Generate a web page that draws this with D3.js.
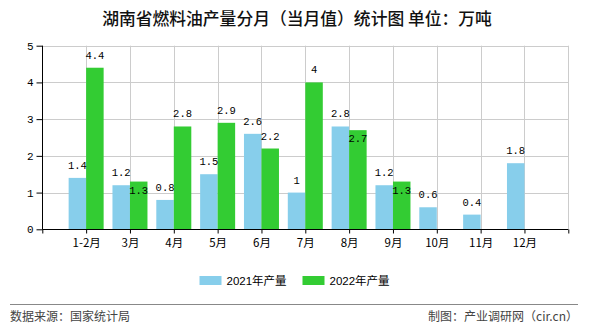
<!DOCTYPE html>
<html>
<head>
<meta charset="utf-8">
<script src="https://cdn.jsdelivr.net/npm/d3@7/dist/d3.min.js"></script>
<style>
  html, body { margin: 0; padding: 0; background: #fff; }
  svg { display: block; }
</style>
</head>
<body>
<svg id="chart" width="590" height="330"></svg>
<script>
// Monthly fuel-oil output for Hunan, 10k tonnes
const months = ["1-2月", "3月", "4月", "5月", "6月", "7月", "8月", "9月", "10月", "11月", "12月"];
const output2021 = [1.4, 1.2, 0.8, 1.5, 2.6, 1, 2.8, 1.2, 0.6, 0.4, 1.8];
const output2022 = [4.4, 1.3, 2.8, 2.9, 2.2, 4, 2.7, 1.3, null, null, null];
const seriesNames = ["2021年产量", "2022年产量"];
const seriesColors = ["#87CEEB", "#33CC33"];
const yTicks = [0, 1, 2, 3, 4, 5];

const svg = d3.select("#chart");
const plot = { left: 42.3, right: 568.3, top: 45.7, bottom: 229.3 };

const cjk = "'Noto Sans CJK SC', 'Noto Sans', sans-serif";
const mono = "'Liberation Mono', 'DejaVu Sans Mono', monospace";

// Month slots sit on integer positions 1..11 of a 0..12 axis
const x = d3.scaleLinear().domain([0, months.length + 1]).range([plot.left, plot.right]);
const y = d3.scaleLinear().domain([0, 5]).range([plot.bottom, plot.top]);
const barW = 17.5;

// Title
svg.append("text")
  .attr("x", 297).attr("y", 25)
  .attr("text-anchor", "middle")
  .style("font-family", cjk).style("font-size", "16.8px").style("font-weight", 500)
  .attr("fill", "#111")
  .text("湖南省燃料油产量分月（当月值）统计图 单位：万吨");

// Grid
const positions = d3.range(0, months.length + 2);
svg.append("g").selectAll("line").data(positions.slice(1)).join("line")
  .attr("x1", d => Math.round(x(d)) + 0.5).attr("x2", d => Math.round(x(d)) + 0.5)
  .attr("y1", plot.top).attr("y2", plot.bottom)
  .attr("stroke", "#cccccc").attr("stroke-width", 1);
svg.append("g").selectAll("line").data(yTicks.slice(1)).join("line")
  .attr("x1", plot.left).attr("x2", plot.right)
  .attr("y1", d => Math.round(y(d)) + 0.5).attr("y2", d => Math.round(y(d)) + 0.5)
  .attr("stroke", "#cccccc").attr("stroke-width", 1);

// Bars
const rows = months.map((m, i) => ({ m, i, a: output2021[i], b: output2022[i] }));
const bars = svg.append("g");
bars.selectAll("rect.a").data(rows.filter(r => r.a != null)).join("rect")
  .attr("class", "a")
  .attr("x", r => x(r.i + 1) - barW).attr("width", barW)
  .attr("y", r => y(r.a)).attr("height", r => y(0) - y(r.a))
  .attr("fill", seriesColors[0]);
bars.selectAll("rect.b").data(rows.filter(r => r.b != null)).join("rect")
  .attr("class", "b")
  .attr("x", r => x(r.i + 1)).attr("width", barW)
  .attr("y", r => y(r.b)).attr("height", r => y(0) - y(r.b))
  .attr("fill", seriesColors[1]);

// Value labels; a 2022 label that would collide with its 2021 neighbour drops inside the bar
const labelGap = 9, insideDrop = 12, clash = 12;
const labels = svg.append("g")
  .style("font-family", mono).style("font-size", "10.5px").attr("fill", "#000")
  .attr("text-anchor", "middle");
rows.forEach(r => {
  let aY = null;
  if (r.a != null) {
    aY = y(r.a) - labelGap;
    labels.append("text").attr("x", x(r.i + 1) - barW / 2).attr("y", aY).text(r.a);
  }
  if (r.b != null) {
    let bY = y(r.b) - labelGap;
    if (aY != null && Math.abs(bY - aY) < clash) bY = y(r.b) + insideDrop;
    labels.append("text").attr("x", x(r.i + 1) + barW / 2).attr("y", bY).text(r.b);
  }
});

// Axes
const yAxis = d3.axisLeft(y).tickValues(yTicks).tickSize(6).tickPadding(3).tickFormat(d3.format("d"));
const gy = svg.append("g").attr("transform", `translate(${Math.round(plot.left) + 0.5},0)`).call(yAxis);
gy.select(".domain").attr("stroke", "#000").attr("d", `M0,${plot.top}V${plot.bottom}`);
gy.selectAll(".tick line").attr("stroke", "#000");
gy.selectAll(".tick text").style("font-family", mono).style("font-size", "11px").attr("fill", "#000");

const xAxis = d3.axisBottom(x).tickValues(positions).tickSize(4).tickPadding(5)
  .tickFormat(d => months[d - 1] || "");
const gx = svg.append("g").attr("transform", `translate(0,${Math.round(plot.bottom) + 0.5})`).call(xAxis);
gx.select(".domain").attr("stroke", "#000").attr("d", `M${plot.left},0H${plot.right}`);
gx.selectAll(".tick line").attr("stroke", "#000");
gx.selectAll(".tick text").style("font-family", cjk).style("font-size", "11.5px").attr("fill", "#000");

// Legend
const legend = svg.append("g").style("font-family", "'Liberation Sans', Arial, " + cjk).style("font-size", "11.5px");
const legendX = [199.5, 302.5];
seriesNames.forEach((name, i) => {
  legend.append("rect").attr("x", legendX[i]).attr("y", 276).attr("width", 22).attr("height", 9)
    .attr("fill", seriesColors[i]);
  legend.append("text").attr("x", legendX[i] + 27).attr("y", 285).attr("fill", "#000").text(name);
});

// Footer
svg.append("line").attr("x1", 10).attr("x2", 578).attr("y1", 304.5).attr("y2", 304.5)
  .attr("stroke", "#888").attr("stroke-width", 1.2);
svg.append("text").attr("x", 10).attr("y", 321)
  .style("font-family", cjk).style("font-size", "12px").attr("fill", "#444")
  .text("数据来源：国家统计局");
svg.append("text").attr("x", 578).attr("y", 321).attr("text-anchor", "end")
  .style("font-family", cjk).style("font-size", "12px").attr("fill", "#444")
  .text("制图：产业调研网（cir.cn）");
</script>
</body>
</html>
